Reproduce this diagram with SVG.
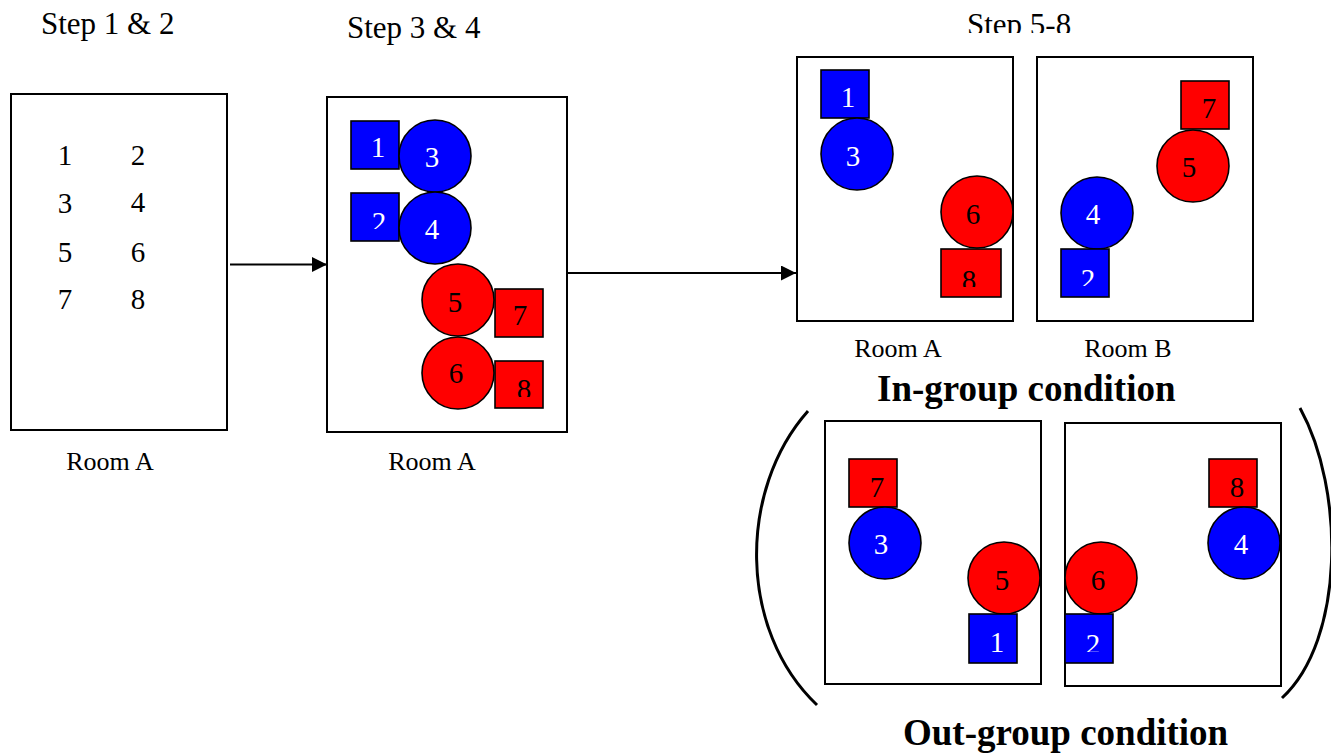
<svg xmlns="http://www.w3.org/2000/svg" width="1331" height="756" viewBox="0 0 1331 756">
  <style>
    text { font-family: "Liberation Serif", "Times New Roman", serif; }
    .room { fill: #fff; stroke: #000; stroke-width: 2; }
    .blue { fill: #0000ff; stroke: #000; stroke-width: 1.6; }
    .red { fill: #ff0000; stroke: #000; stroke-width: 1.6; }
    .step { font-size: 31px; fill: #000; }
    .label { font-size: 26px; fill: #000; text-anchor: middle; }
    .cond { font-size: 37px; font-weight: bold; fill: #000; }
    .num { font-size: 29px; text-anchor: middle; }
    .w { fill: #fff; }
    .k { fill: #000; }
    .bracket { fill: none; stroke: #000; stroke-width: 3; }
    .conn { stroke: #000; stroke-width: 2; fill: none; }
  </style>
  <defs>
    <marker id="arrowhead" markerWidth="15" markerHeight="15" refX="15" refY="7.5" orient="auto" markerUnits="userSpaceOnUse" viewBox="0 0 15 15">
      <path d="M0,0 L15,7.5 L0,15 Z" fill="#000"/>
    </marker>
    <!-- text boxes that cut the lower part of some labels -->
    <clipPath id="cutStep"><rect x="900" y="0" width="250" height="33"/></clipPath>
    <clipPath id="cut2a"><rect x="351" y="193" width="48" height="36"/></clipPath>
    <clipPath id="cut8a"><rect x="495" y="361" width="48" height="36"/></clipPath>
    <clipPath id="cut8b"><rect x="941" y="249" width="60" height="38"/></clipPath>
    <clipPath id="cut2b"><rect x="1061" y="249" width="48" height="37"/></clipPath>
    <clipPath id="cut2c"><rect x="1065" y="614" width="48" height="38"/></clipPath>
  </defs>

  <!-- step headings -->
  <text class="step" x="41" y="34">Step 1 &amp; 2</text>
  <text class="step" x="347" y="38">Step 3 &amp; 4</text>
  <text class="step" x="967" y="34.5" clip-path="url(#cutStep)">Step 5-8</text>

  <!-- Step 1 & 2: numbered list in room A -->
  <g id="room-step12">
    <rect class="room" x="11" y="94" width="216" height="336"/>
    <g class="num k">
      <text x="65" y="165">1</text><text x="138" y="165">2</text>
      <text x="65" y="213">3</text><text x="138" y="212">4</text>
      <text x="65" y="262">5</text><text x="138" y="262">6</text>
      <text x="65" y="309">7</text><text x="138" y="309">8</text>
    </g>
    <text class="label" x="110" y="470">Room A</text>
  </g>

  <!-- Step 3 & 4: shapes grouped in room A -->
  <g id="room-step34">
    <rect class="room" x="327" y="97" width="240" height="335"/>
    <rect class="blue" x="351" y="121" width="48" height="48"/>
    <circle class="blue" cx="435" cy="156" r="36"/>
    <rect class="blue" x="351" y="193" width="48" height="48"/>
    <circle class="blue" cx="435" cy="228" r="36"/>
    <circle class="red" cx="458" cy="300" r="36"/>
    <rect class="red" x="495" y="289" width="48" height="48"/>
    <circle class="red" cx="458" cy="373" r="36"/>
    <rect class="red" x="495" y="361" width="48" height="47"/>
    <text class="num w" x="378" y="157">1</text>
    <text class="num w" x="432" y="167">3</text>
    <text class="num w" x="379" y="232" clip-path="url(#cut2a)">2</text>
    <text class="num w" x="432" y="239">4</text>
    <text class="num k" x="455" y="312">5</text>
    <text class="num k" x="520" y="325">7</text>
    <text class="num k" x="456" y="383">6</text>
    <text class="num k" x="524" y="399" clip-path="url(#cut8a)">8</text>
    <text class="label" x="432" y="470">Room A</text>
  </g>

  <!-- Step 5-8, in-group condition: room A -->
  <g id="ingroup-roomA">
    <rect class="room" x="797" y="57" width="216" height="264"/>
    <rect class="blue" x="821" y="70" width="48" height="48"/>
    <circle class="blue" cx="857" cy="154" r="36"/>
    <circle class="red" cx="977" cy="212" r="36"/>
    <rect class="red" x="941" y="249" width="60" height="48"/>
    <text class="num w" x="848" y="107">1</text>
    <text class="num w" x="853" y="166">3</text>
    <text class="num k" x="973" y="224">6</text>
    <text class="num k" x="969" y="290" clip-path="url(#cut8b)">8</text>
    <text class="label" x="898" y="357">Room A</text>
  </g>

  <!-- Step 5-8, in-group condition: room B -->
  <g id="ingroup-roomB">
    <rect class="room" x="1037" y="57" width="216" height="264"/>
    <rect class="red" x="1181" y="81" width="48" height="48"/>
    <circle class="red" cx="1193" cy="166" r="36"/>
    <circle class="blue" cx="1097" cy="213" r="36"/>
    <rect class="blue" x="1061" y="249" width="48" height="48"/>
    <text class="num k" x="1209" y="118">7</text>
    <text class="num k" x="1189" y="177">5</text>
    <text class="num w" x="1093" y="224">4</text>
    <text class="num w" x="1088" y="289" clip-path="url(#cut2b)">2</text>
    <text class="label" x="1128" y="357">Room B</text>
  </g>

  <text class="cond" x="877" y="401">In-group condition</text>

  <!-- out-group condition: room A -->
  <g id="outgroup-roomA">
    <rect class="room" x="825" y="421" width="216" height="263"/>
    <rect class="red" x="849" y="459" width="48" height="48"/>
    <circle class="blue" cx="885" cy="543" r="36"/>
    <circle class="red" cx="1004" cy="578" r="36"/>
    <rect class="blue" x="969" y="614" width="48" height="49"/>
    <text class="num k" x="877" y="497">7</text>
    <text class="num w" x="881" y="554">3</text>
    <text class="num k" x="1002" y="590">5</text>
    <text class="num w" x="997" y="652">1</text>
  </g>

  <!-- out-group condition: room B -->
  <g id="outgroup-roomB">
    <rect class="room" x="1065" y="423" width="216" height="263"/>
    <rect class="red" x="1209" y="459" width="48" height="48"/>
    <circle class="blue" cx="1244" cy="543" r="36"/>
    <circle class="red" cx="1101" cy="578" r="36"/>
    <rect class="blue" x="1065" y="614" width="48" height="49"/>
    <text class="num k" x="1237" y="497">8</text>
    <text class="num w" x="1241" y="554">4</text>
    <text class="num k" x="1098" y="590">6</text>
    <text class="num w" x="1093" y="654" clip-path="url(#cut2c)">2</text>
  </g>

  <!-- parentheses around the out-group rooms -->
  <g id="brackets">
    <path class="bracket" d="M808,411 C738,490 738,630 817,705"/>
    <path class="bracket" d="M1300,408 C1345,490 1345,640 1282,698"/>
  </g>

  <text class="cond" x="903" y="745">Out-group condition</text>

  <!-- connectors between steps -->
  <g id="connectors">
    <line class="conn" x1="230" y1="264.5" x2="327" y2="264.5" marker-end="url(#arrowhead)"/>
    <line class="conn" x1="567" y1="273" x2="796" y2="273" marker-end="url(#arrowhead)"/>
  </g>
</svg>
